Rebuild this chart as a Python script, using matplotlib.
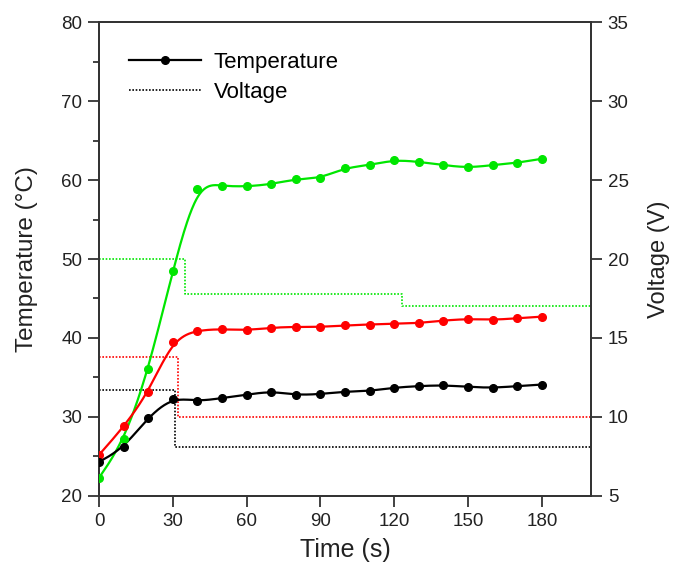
import numpy as np
import matplotlib
matplotlib.use('Agg')
import matplotlib.pyplot as plt
from matplotlib.lines import Line2D
from matplotlib.ticker import MultipleLocator

plt.rcParams['font.family'] = ['Liberation Sans', 'DejaVu Sans']

# sampled temperature (°C) every 10 s
time_s = [0, 10, 20, 30, 40, 50, 60, 70, 80, 90, 100, 110, 120, 130, 140, 150, 160, 170, 180]
temp_black = [24.3, 26.2, 29.9, 32.3, 32.0, 32.4, 32.8, 33.2, 32.8, 32.9, 33.2, 33.3, 33.7, 33.9, 34.0, 33.8, 33.7, 33.9, 34.1]
temp_red = [25.2, 28.8, 33.2, 39.5, 40.9, 41.1, 41.0, 41.3, 41.4, 41.4, 41.6, 41.7, 41.8, 41.9, 42.2, 42.4, 42.3, 42.5, 42.7]
temp_green = [22.3, 27.2, 36.1, 48.5, 58.9, 59.2, 59.2, 59.5, 60.1, 60.3, 61.5, 61.9, 62.5, 62.3, 61.9, 61.6, 61.9, 62.2, 62.7]

# applied voltage (V), piecewise constant
volt_black_t = [0, 31, 200]
volt_black = [11.7, 8.1, 8.1]
volt_red_t = [0, 32, 200]
volt_red = [13.8, 10.0, 10.0]
volt_green_t = [0, 35, 123, 200]
volt_green = [20.0, 17.8, 17.0, 17.0]

BLACK = '#000000'
RED = '#ff0000'
GREEN = '#00e600'


def bspline(x, y, n=40, tighten=0.5):
    """Uniform cubic B-spline through control points derived from the data, clamped at both ends.
    `tighten` pulls the control points outward so the curve follows the data more closely."""
    p = np.column_stack([x, y]).astype(float)
    q = p.copy()
    q[1:-1] = p[1:-1] + tighten * (p[1:-1] - (p[:-2] + 4 * p[1:-1] + p[2:]) / 6)
    q = np.vstack([q[0], q[0], q, q[-1], q[-1]])
    t = np.linspace(0, 1, n, endpoint=False)
    b0 = (1 - t) ** 3 / 6
    b1 = (3 * t ** 3 - 6 * t ** 2 + 4) / 6
    b2 = (-3 * t ** 3 + 3 * t ** 2 + 3 * t + 1) / 6
    b3 = t ** 3 / 6
    segs = []
    for i in range(len(q) - 3):
        seg = (b0[:, None] * q[i] + b1[:, None] * q[i + 1]
               + b2[:, None] * q[i + 2] + b3[:, None] * q[i + 3])
        segs.append(seg)
    segs.append(q[-1][None, :])
    c = np.vstack(segs)
    return c[:, 0], c[:, 1]


fig = plt.figure(figsize=(6.74, 5.68), dpi=100)
ax = fig.add_axes([0.147, 0.127, 0.730, 0.834])
ax2 = ax.twinx()

for t_v, v, col in [(volt_green_t, volt_green, GREEN), (volt_red_t, volt_red, RED),
                    (volt_black_t, volt_black, BLACK)]:
    ax2.plot(t_v, v, drawstyle='steps-post', linestyle=(0, (1, 1)), color=col, linewidth=1.2)

for temp, col in [(temp_green, GREEN), (temp_red, RED), (temp_black, BLACK)]:
    sx, sy = bspline(time_s, temp)
    ax.plot(sx, sy, color=col, linewidth=1.6, zorder=3)
    ax.plot(time_s, temp, 'o', color=col, markersize=5.5, zorder=4)

ax.set_zorder(ax2.get_zorder() + 1)
ax.patch.set_visible(False)

ax.set_xlim(0, 200)
ax.set_ylim(20, 80)
ax2.set_ylim(5, 35)
ax.set_xticks([0, 30, 60, 90, 120, 150, 180])
ax.yaxis.set_major_locator(MultipleLocator(10))
ax.yaxis.set_minor_locator(MultipleLocator(5))
ax2.yaxis.set_major_locator(MultipleLocator(5))

axis_col = '#333333'
for a in (ax, ax2):
    for s in a.spines.values():
        s.set_linewidth(1.3)
        s.set_color(axis_col)
    a.tick_params(which='major', direction='out', length=8, width=1.3, color=axis_col,
                  labelsize=13.5, labelcolor='#222222', pad=4)
    a.tick_params(which='minor', direction='out', length=4.5, width=1.3, color=axis_col)
ax.tick_params(top=False, right=False)

ax.set_xlabel('Time (s)', fontsize=18, color='#222222', labelpad=6)
ax.set_ylabel('Temperature (°C)', fontsize=17.5, color='#222222', labelpad=17)
ax2.set_ylabel('Voltage (V)', fontsize=17, color='#222222', labelpad=14)

handles = [Line2D([], [], color=BLACK, linewidth=1.6, marker='o', markersize=5.5),
           Line2D([], [], color=BLACK, linestyle=(0, (1, 1)), linewidth=1.2)]
ax.legend(handles, ['Temperature', 'Voltage'], loc='upper left', bbox_to_anchor=(0.021, 0.98),
          frameon=False, fontsize=16, handlelength=3.2, handletextpad=0.6, labelspacing=0.4)

fig.savefig('out.png', dpi=100)
